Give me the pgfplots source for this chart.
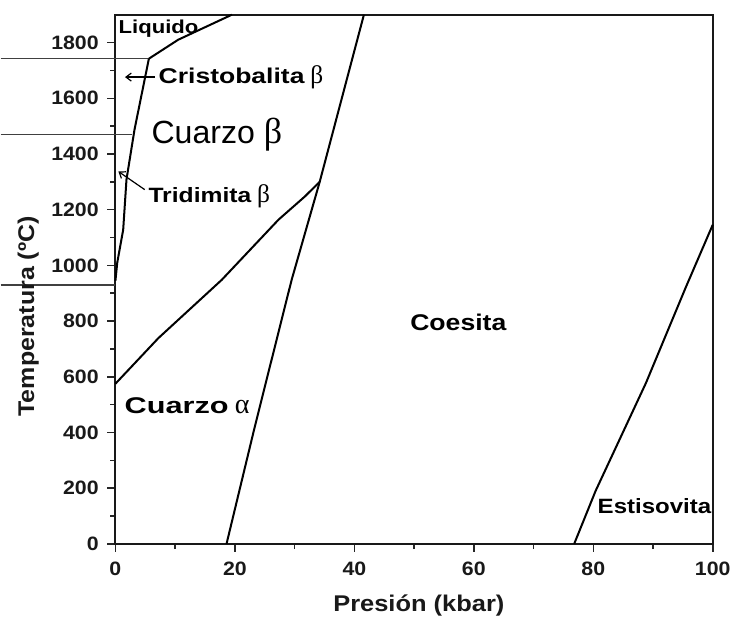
\documentclass[border=0pt]{standalone}
\usepackage{pgfplots}
\pgfplotsset{compat=1.18}
\usepackage{fontspec}
\setmainfont{Liberation Sans}
\newfontfamily\grk{Liberation Serif}
\usetikzlibrary{arrows.meta}
% horizontally stretched text, as in the scanned figure
\newcommand\st[2]{\scalebox{#1}[1]{#2}}

\begin{document}
\begin{tikzpicture}
\begin{axis}[
  scale only axis, width=447pt, height=396pt,
  xmin=0, xmax=100, ymin=0, ymax=1900,
  xtick={0,20,...,100}, minor xtick={10,30,50,70,90},
  ytick={0,200,...,1800}, minor ytick={100,300,...,1700},
  tick align=outside, major tick length=6pt, minor tick length=4pt,
  xtick pos=bottom, ytick pos=left,
  axis line style={line width=1.5pt, black!90},
  every tick/.style={black!85, line width=1.1pt},
  /pgf/number format/.cd, 1000 sep={}, assume math mode=true, /pgfplots/.cd,
  ticklabel style={font=\fontsize{14.5}{16}\selectfont\bfseries, black!90},
  xticklabel style={yshift=-4pt},
  yticklabel style={xshift=-3pt},
  xticklabel={\st{1.1}{\pgfmathprintnumber{\tick}}},
  yticklabel={\st{1.1}{\pgfmathprintnumber{\tick}}},
  xlabel={\st{1.12}{Presión (kbar)}},
  ylabel={\st{1.1}{Temperatura (ºC)}},
  label style={font=\fontsize{17}{20}\selectfont\bfseries, black!90},
  xlabel style={at={(axis description cs:0.508,-0.117)}, anchor=center},
  ylabel style={at={(axis description cs:-0.146,0.43)}, anchor=center},
  clip=false,
]
% tie lines coming in from the left
\addplot[line width=1.1pt, black!75] coordinates {(-19.2,1742) (5.6,1742)};
\addplot[line width=1.1pt, black!75] coordinates {(-19.2,1470) (2.7,1470)};
\addplot[line width=1.1pt, black!75] coordinates {(-19.2,930) (0,930)};

% liquidus
\addplot[line width=1.5pt, black] coordinates {(5.6,1742) (10.5,1810) (19.5,1900)};
% cristobalita / tridimita - cuarzo beta
\addplot[line width=1.5pt, black] coordinates {
  (5.6,1742) (3.2,1488) (1.85,1308) (1.3,1128) (0.3,1009) (0,945)};
% cuarzo alfa - cuarzo beta
\addplot[line width=1.5pt, black] coordinates {
  (0,575) (7.2,739) (17.8,948) (27.3,1164) (31.7,1247) (34.2,1300)};
% cuarzo - coesita
\addplot[line width=1.5pt, black] coordinates {
  (18.6,0) (23.3,418) (29.5,948) (34.2,1300) (41.6,1900)};
% coesita - estisovita
\addplot[line width=1.5pt, black] coordinates {
  (76.8,0) (80.4,191) (88.8,577) (95.5,922) (100,1146)};

% region names
\node[anchor=west, font=\fontsize{14}{16}\selectfont\bfseries, inner sep=0pt]
  at (axis cs:0.5,1850) {\st{1.18}{Liquido}};
\node[anchor=west, font=\fontsize{16}{18}\selectfont\bfseries, inner sep=0pt]
  at (axis cs:7.2,1676) {\st{1.24}{Cristobalita} {\mdseries\grk\fontsize{19}{20}\selectfont β}};
\draw[-{Straight Barb[length=4pt,width=6pt]}, line width=0.9pt]
  (axis cs:6.6,1676) -- (axis cs:1.6,1676);
\node[anchor=west, font=\fontsize{24}{28}\selectfont, inner sep=0pt]
  at (axis cs:6.0,1470) {Cuarzo {\grk\fontsize{27}{28}\selectfont β}};
\node[anchor=west, font=\fontsize{15.5}{18}\selectfont\bfseries, inner sep=0pt]
  at (axis cs:5.5,1247) {\st{1.19}{Tridimita} {\mdseries\grk\fontsize{19}{20}\selectfont β}};
\draw[-{Straight Barb[length=4pt,width=6pt]}, line width=0.9pt]
  (axis cs:4.9,1272) -- (axis cs:0.5,1337);
\node[font=\fontsize{17}{20}\selectfont\bfseries, inner sep=0pt]
  at (axis cs:57.4,796) {\st{1.17}{Coesita}};
\node[anchor=west, font=\fontsize{17}{20}\selectfont\bfseries, inner sep=0pt]
  at (axis cs:1.5,497) {\st{1.35}{Cuarzo} {\mdseries\grk\fontsize{21}{22}\selectfont α}};
\node[anchor=west, font=\fontsize{15.5}{18}\selectfont\bfseries, inner sep=0pt]
  at (axis cs:80.7,137) {\st{1.16}{Estisovita}};
\end{axis}
\path ([yshift=11pt]current axis.north);
\end{tikzpicture}
\end{document}
